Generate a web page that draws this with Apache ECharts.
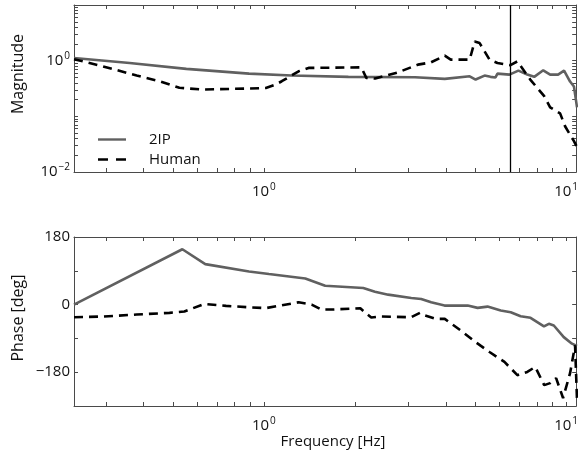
<!DOCTYPE html>
<html><head><meta charset="utf-8">
<script src="https://cdn.jsdelivr.net/npm/echarts@6/dist/echarts.min.js"></script>
<style>html,body{margin:0;padding:0;background:#fff}#c{width:581px;height:456px}</style>
</head><body><div id="c"></div>
<script>
// ---- data ----
const magFreq2IP = [0.2353, 0.3596, 0.5538, 0.8929, 1.236, 1.904, 3.162, 3.968, 4.797, 5.020, 5.374, 5.623, 5.84, 5.93, 6.494, 6.955, 7.441, 7.846, 8.403, 8.858, 9.412, 9.849, 10.31, 10.62, 10.87];
const mag2IP = [1.117, 0.910, 0.711, 0.586, 0.540, 0.512, 0.503, 0.471, 0.524, 0.458, 0.540, 0.512, 0.50, 0.586, 0.562, 0.663, 0.562, 0.512, 0.671, 0.562, 0.562, 0.663, 0.422, 0.343, 0.145];
const magFreqHuman = [0.2353, 0.2932, 0.3793, 0.4514, 0.5253, 0.6252, 0.8929, 1.015, 1.095, 1.146, 1.303, 1.406, 2.101, 2.182, 2.336, 2.781, 3.235, 3.569, 3.968, 4.153, 4.797, 4.983, 5.175, 5.581, 5.929, 6.544, 6.902, 7.612, 8.466, 8.858, 9.556, 9.924, 10.62, 10.87];
const magHuman = [1.064, 0.791, 0.540, 0.427, 0.326, 0.303, 0.316, 0.323, 0.373, 0.427, 0.644, 0.741, 0.759, 0.491, 0.477, 0.618, 0.848, 0.932, 1.228, 1.042, 1.042, 2.212, 2.071, 1.042, 0.910, 0.831, 0.972, 0.458, 0.230, 0.145, 0.113, 0.0663, 0.0358, 0.028];
const phaseFreq2IP = [0.2353, 0.5373, 0.6397, 0.8929, 1.039, 1.371, 1.595, 2.133, 2.331, 2.578, 3.075, 3.316, 3.577, 3.961, 4.725, 5.096, 5.497, 6.080, 6.559, 7.074, 7.629, 8.450, 8.772, 9.109, 9.826, 10.46, 10.87];
const phase2IP = [0, 147.4, 107.7, 88.1, 81.3, 69.6, 50.3, 44.2, 34.4, 26.5, 17.7, 15.1, 6.1, -2.6, -2.6, -8.7, -5.3, -15.9, -20.4, -31.0, -35.2, -58.2, -51.1, -55.6, -86.6, -104.0, -110];
const phaseFreqHuman = [0.2353, 0.2932, 0.3793, 0.4870, 0.5456, 0.6349, 0.7499, 0.8929, 1.015, 1.303, 1.439, 1.551, 1.674, 2.085, 2.182, 2.266, 2.444, 3.068, 3.285, 3.412, 3.708, 3.968, 4.480, 5.020, 5.581, 6.254, 6.902, 7.441, 7.907, 8.466, 8.858, 9.271, 9.774, 10.31, 10.71, 10.87];
const phaseHuman = [-33.6, -31.8, -26.5, -22.0, -18.5, 1.9, -3.4, -7.1, -9.3, 6.1, 0, -13.2, -13.2, -9.8, -23.8, -34.4, -31.8, -33.6, -22.0, -29.1, -37.9, -37.9, -68.8, -99.8, -126.3, -152.7, -187.9, -179.2, -166.0, -214.4, -209.1, -195.9, -248.8, -182.6, -108.5, -254];
const cutoffFreq = 6.54;
const seriesNames = ['2IP', 'Human'];
const freqRange = [0.2353, 10.8];
const magRange = [0.01, 10];
const phaseRange = [-270, 180];
const xTickValues = [0.3, 0.4, 0.5, 0.6, 0.7, 0.8, 0.9, 1, 2, 3, 4, 5, 6, 7, 8, 9, 10];
const xLabelValues = [1, 10];
const magTickValues = [0.01, 0.02, 0.03, 0.04, 0.05, 0.06, 0.07, 0.08, 0.09, 0.1, 0.2, 0.3, 0.4, 0.5, 0.6, 0.7, 0.8, 0.9, 1, 2, 3, 4, 5, 6, 7, 8, 9, 10];
const magLabelValues = [0.01, 1];
const phaseLabelValues = [-180, 0, 180];

// ---- chart ----
const FONT = 'Open Sans';
const AXC = '#4a4a4a';
const zip = (a, b) => a.map((v, i) => [v, b[i]]);
const powLabel = v => {
  const e = Math.round(Math.log10(v));
  return '{b|10}{s|' + (e < 0 ? '\u2212' + (-e) : e) + '}';
};
const rich = {
  b: { fontSize: 15, fontFamily: FONT, color: '#111' },
  s: { fontSize: 10, fontFamily: FONT, color: '#111', padding: [0, 0, 9, 1] }
};
function xAx(grid, pos, labels) {
  return {
    type: 'log', logBase: 10, gridIndex: grid, position: pos,
    min: freqRange[0], max: freqRange[1],
    axisLine: { show: true, onZero: false, lineStyle: { color: AXC, width: 1 } },
    axisTick: { show: true, inside: true, length: 4, customValues: xTickValues, lineStyle: { color: AXC } },
    axisLabel: labels ? { show: true, customValues: xLabelValues, formatter: powLabel, rich: rich, margin: 10 } : { show: false },
    splitLine: { show: false }, minorTick: { show: false }
  };
}
function yMag(pos, labels) {
  return {
    type: 'log', logBase: 10, gridIndex: 0, position: pos,
    min: magRange[0], max: magRange[1],
    axisLine: { show: true, onZero: false, lineStyle: { color: AXC, width: 1 } },
    axisTick: { show: true, inside: true, length: 4, customValues: magTickValues, lineStyle: { color: AXC } },
    axisLabel: labels ? { show: true, customValues: magLabelValues, formatter: powLabel, rich: rich, margin: 4 } : { show: false },
    splitLine: { show: false }
  };
}
function yPhase(pos, labels) {
  return {
    type: 'value', gridIndex: 1, position: pos,
    min: phaseRange[0], max: phaseRange[1], interval: 90,
    axisLine: { show: true, onZero: false, lineStyle: { color: AXC, width: 1 } },
    axisTick: { show: true, inside: true, length: 4, lineStyle: { color: AXC } },
    axisLabel: labels ? { show: true, customValues: phaseLabelValues,
      formatter: v => (v < 0 ? '\u2212' + (-v) : '' + v),
      fontSize: 15, fontFamily: FONT, color: '#111', margin: 4 } : { show: false },
    splitLine: { show: false }
  };
}
const chart = echarts.init(document.getElementById('c'), null, { renderer: 'canvas' });
chart.setOption({
  backgroundColor: '#fff',
  animation: false,
  grid: [
    { left: 74, top: 5, width: 505, height: 167 },
    { left: 74, top: 237, width: 505, height: 169 }
  ],
  xAxis: [xAx(0, 'bottom', true), xAx(0, 'top', false), xAx(1, 'bottom', true), xAx(1, 'top', false)],
  yAxis: [yMag('left', true), yMag('right', false), yPhase('left', true), yPhase('right', false)],
  legend: {
    data: [
      { name: seriesNames[0], icon: 'path://M0,0H28V2.4H0Z' },
      { name: seriesNames[1], icon: 'path://M0,0H10V2.4H0Z M18,0H28V2.4H18Z' }
    ],
    orient: 'vertical', left: 93, top: 127,
    itemWidth: 28, itemHeight: 14, itemGap: 5,
    textStyle: { fontSize: 15, fontFamily: FONT, color: '#111', padding: [0, 0, 0, 18] }
  },
  graphic: [
    { type: 'text', x: 18, y: 74, rotation: Math.PI / 2,
      style: { text: 'Magnitude', font: '16px "Open Sans"', fill: '#111', align: 'center', verticalAlign: 'middle' } },
    { type: 'text', x: 18, y: 318, rotation: Math.PI / 2,
      style: { text: 'Phase [deg]', font: '16px "Open Sans"', fill: '#111', align: 'center', verticalAlign: 'middle' } },
    { type: 'text', x: 333, y: 442,
      style: { text: 'Frequency [Hz]', font: '15px "Open Sans"', fill: '#111', align: 'center', verticalAlign: 'middle' } }
  ],
  series: [
    { name: seriesNames[0], type: 'line', xAxisIndex: 0, yAxisIndex: 0, data: zip(magFreq2IP, mag2IP),
      symbol: 'none', clip: true, color: '#606060', lineStyle: { color: '#606060', width: 2.6 }, z: 3 },
    { name: seriesNames[1], type: 'line', xAxisIndex: 0, yAxisIndex: 0, data: zip(magFreqHuman, magHuman),
      symbol: 'none', clip: true, color: '#000', lineStyle: { color: '#000', width: 2.6, type: [9, 6] }, z: 4,
      markLine: { silent: true, symbol: 'none', label: { show: false },
        lineStyle: { color: '#000', width: 1.3, type: 'solid' }, data: [{ xAxis: cutoffFreq }] } },
    { name: seriesNames[0], type: 'line', xAxisIndex: 2, yAxisIndex: 2, data: zip(phaseFreq2IP, phase2IP),
      symbol: 'none', clip: true, color: '#606060', lineStyle: { color: '#606060', width: 2.6 }, z: 3 },
    { name: seriesNames[1], type: 'line', xAxisIndex: 2, yAxisIndex: 2, data: zip(phaseFreqHuman, phaseHuman),
      symbol: 'none', clip: true, color: '#000', lineStyle: { color: '#000', width: 2.6, type: [9, 6] }, z: 4 }
  ]
});
</script>
</body></html>
